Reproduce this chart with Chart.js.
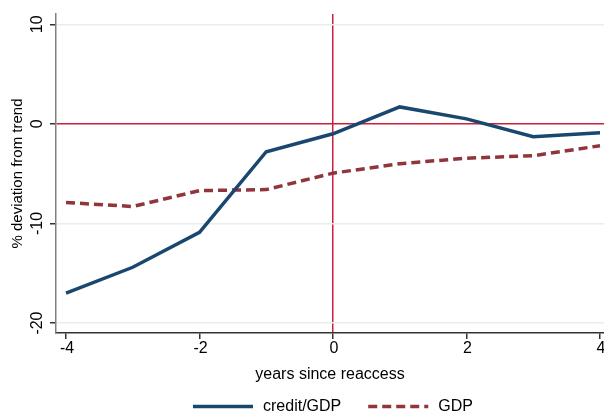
<!DOCTYPE html>
<html>
<head>
<meta charset="utf-8">
<script src="https://cdn.jsdelivr.net/npm/chart.js@4/dist/chart.umd.min.js"></script>
<style>
  html, body { margin: 0; padding: 0; background: #fff; }
  #wrap { width: 604px; height: 414px; }
</style>
</head>
<body>
<div id="wrap"><canvas id="reaccessChart" width="604" height="414"></canvas></div>
<script>
// Data
const years = [-4, -3, -2, -1, 0, 1, 2, 3, 4];
const creditGdp = [-17.0, -14.4, -10.9, -2.8, -1.0, 1.7, 0.5, -1.3, -0.9];
const gdp = [-7.9, -8.3, -6.7, -6.6, -4.95, -4.0, -3.45, -3.2, -2.2];
const xTicks = [-4, -2, 0, 2, 4];
const yTicks = [10, 0, -10, -20];

const FONT = "Liberation Sans, Arial, sans-serif";
const NAVY = "#1a476f";
const MAROON = "#90353b";
const RED = "#cc1f3c";

function toPoints(values) {
    return years.map((x, i) => ({ x: x, y: values[i] }));
}

// Draws rotated y tick labels, axis titles and the legend
const stataText = {
    id: "stataText",
    afterDraw(chart) {
        const ctx = chart.ctx;
        const xs = chart.scales.x;
        const ys = chart.scales.y;
        const area = chart.chartArea;
        ctx.save();
        ctx.fillStyle = "#000";
        ctx.font = "16px " + FONT;
        ctx.textAlign = "center";
        ctx.textBaseline = "middle";

        yTicks.forEach(v => {
            ctx.save();
            ctx.translate(37.5, ys.getPixelForValue(v));
            ctx.rotate(-Math.PI / 2);
            ctx.fillText(String(v), 0, 0);
            ctx.restore();
        });

        xTicks.forEach(v => {
            ctx.fillText(String(v), xs.getPixelForValue(v) + 1, 349);
        });

        ctx.fillText("years since reaccess", (area.left + area.right) / 2, 375);

        ctx.save();
        ctx.font = "15px " + FONT;
        ctx.translate(18, (area.top + area.bottom) / 2);
        ctx.rotate(-Math.PI / 2);
        ctx.fillText("% deviation from trend", 0, 0);
        ctx.restore();

        // legend
        let lx = 193;
        const ly = 406.5;
        ctx.textAlign = "left";
        chart.data.datasets.forEach(ds => {
            ctx.save();
            ctx.strokeStyle = ds.borderColor;
            ctx.lineWidth = ds.borderWidth;
            ctx.setLineDash(ds.borderDash || []);
            ctx.beginPath();
            ctx.moveTo(lx, ly);
            ctx.lineTo(lx + 60, ly);
            ctx.stroke();
            ctx.restore();
            ctx.fillText(ds.label, lx + 70, ly);
            lx += 70 + ctx.measureText(ds.label).width + 27;
        });
        ctx.restore();
    }
};

new Chart(document.getElementById("reaccessChart").getContext("2d"), {
    type: "line",
    data: {
        datasets: [
            {
                label: "credit/GDP",
                data: toPoints(creditGdp),
                borderColor: NAVY,
                borderWidth: 3.5,
                pointRadius: 0,
                tension: 0,
            },
            {
                label: "GDP",
                data: toPoints(gdp),
                borderColor: MAROON,
                borderWidth: 3.5,
                borderDash: [9, 5],
                pointRadius: 0,
                tension: 0,
            },
        ],
    },
    options: {
        responsive: false,
        animation: false,
        events: [],
        layout: { padding: { left: 50, top: 14, right: 0, bottom: 75 } },
        plugins: {
            legend: { display: false },
            tooltip: { enabled: false },
        },
        scales: {
            x: {
                type: "linear",
                min: -4.15,
                max: 4.06,
                afterBuildTicks: s => { s.ticks = xTicks.map(v => ({ value: v })); },
                ticks: { display: false },
                border: { color: "#333", width: 1.5 },
                grid: {
                    color: c => (c.tick && c.tick.value === 0 ? RED : "rgba(0,0,0,0)"),
                    lineWidth: 1.5,
                    tickColor: "#333",
                    tickLength: 6,
                },
            },
            y: {
                type: "linear",
                min: -21,
                max: 11.03,
                afterBuildTicks: s => { s.ticks = yTicks.map(v => ({ value: v })); },
                ticks: { display: false },
                border: { color: "#808080", width: 1.5 },
                grid: {
                    color: c => (c.tick && c.tick.value === 0 ? RED : "#e6eef0"),
                    lineWidth: 1.5,
                    tickColor: "#333",
                    tickLength: 6,
                },
            },
        },
    },
    plugins: [stataText],
});
</script>
</body>
</html>
